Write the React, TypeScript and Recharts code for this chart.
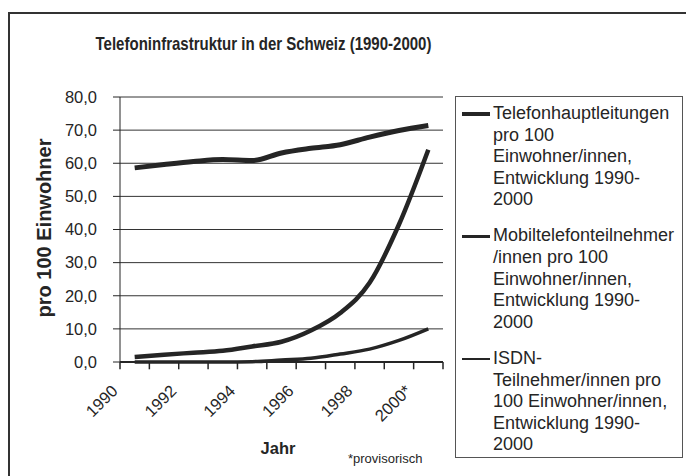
import { CartesianGrid, Legend, Line, LineChart, ReferenceLine, XAxis, YAxis } from "recharts";

const years = [1990, 1991, 1992, 1993, 1994, 1995, 1996, 1997, 1998, 1999, 2000];
const mainLines = [58.6, 59.6, 60.5, 61.1, 60.8, 63.1, 64.5, 65.6, 67.9, 69.9, 71.4];
const mobileSubs = [1.5, 2.2, 2.8, 3.4, 4.7, 6.1, 9.5, 14.8, 23.9, 41.5, 64.1];
const isdnSubs = [0, 0, 0, 0, 0.1, 0.6, 1.1, 2.4, 3.9, 6.5, 10.0];
const yTicks = [0, 10, 20, 30, 40, 50, 60, 70, 80];
const labelYears = [1990, 1992, 1994, 1996, 1998, 2000];
const legendLines = [
  ["Telefonhauptleitungen", "pro 100", "Einwohner/innen,", "Entwicklung 1990-", "2000"],
  ["Mobiltelefonteilnehmer", "/innen pro 100", "Einwohner/innen,", "Entwicklung 1990-", "2000"],
  ["ISDN-", "Teilnehmer/innen pro", "100 Einwohner/innen,", "Entwicklung 1990-", "2000"],
];

const FONT = '"Liberation Sans", Arial, sans-serif';
const INK = "#252525";

const series = [
  { key: "main", width: 5, legendWidth: 4 },
  { key: "mobile", width: 4.5, legendWidth: 3.5 },
  { key: "isdn", width: 3.5, legendWidth: 2 },
];

const rows = years.map((year, i) => ({
  year,
  main: mainLines[i],
  mobile: mobileSubs[i],
  isdn: isdnSubs[i],
}));

// tick marks sit between the years, like the old spreadsheet chart
const bounds = [...years.map(y => y - 0.5), years[years.length - 1] + 0.5];
const lastYear = years[years.length - 1];
const fmtY = (v: number) => v.toFixed(1).replace(".", ",");

function YearTick({ x, y, payload }: { x?: number; y?: number; payload?: { value: number } }) {
  if (x == null || y == null || !payload) return null;
  const v = payload.value;
  const ax = x - 16;
  const ay = y + 30;
  const label = v === lastYear ? `${v}*` : `${v}`;
  return (
    <text x={ax} y={ay} transform={`rotate(-45, ${ax}, ${ay})`} textAnchor="end"
      fontSize={16.5} fontFamily={FONT} fill={INK}>
      {label}
    </text>
  );
}

function LegendBox() {
  return (
    <div style={{ width: 226, height: 354, border: "1px solid #555", background: "#fff",
      fontFamily: FONT, fontSize: 18, lineHeight: "21.6px", color: INK, paddingTop: 6, boxSizing: "content-box" }}>
      {legendLines.map((lines, i) => (
        <div key={i} style={{ position: "relative", paddingLeft: 37, marginBottom: 14.5 }}>
          <span style={{ position: "absolute", left: 6, top: 10.8 - series[i].legendWidth / 2, width: 28,
            height: series[i].legendWidth, background: INK }} />
          {lines.map((t, j) => <div key={j} style={{ whiteSpace: "nowrap" }}>{t}</div>)}
        </div>
      ))}
    </div>
  );
}

export default function App() {
  return (
    <div style={{ position: "fixed", left: 0, top: 0, width: 686, height: 476, overflow: "hidden", background: "#fff" }}>
      <div style={{ position: "absolute", left: 8, top: 12, width: 700, height: 500, border: "2px solid #333" }} />
      <div style={{ position: "absolute", left: 0, top: 34, width: 527, textAlign: "center", fontFamily: FONT,
        fontWeight: "bold", fontSize: 19, lineHeight: "19px", color: INK, transform: "scaleX(0.79)" }}>
        Telefoninfrastruktur in der Schweiz (1990-2000)
      </div>
      <div style={{ position: "absolute", left: 44 - 120, top: 228 - 10, width: 240, textAlign: "center",
        fontFamily: FONT, fontWeight: "bold", fontSize: 20, lineHeight: "20px", color: INK, transform: "rotate(-90deg)" }}>
        pro 100 Einwohner
      </div>
      <div style={{ position: "absolute", left: 278 - 50, top: 448 - 8, width: 100, textAlign: "center",
        fontFamily: FONT, fontWeight: "bold", fontSize: 16.5, lineHeight: "16.5px", color: INK }}>
        Jahr
      </div>
      <div style={{ position: "absolute", left: 348, top: 458 - 6.5, fontFamily: FONT, fontSize: 13,
        lineHeight: "13px", color: INK }}>
        *provisorisch
      </div>
      <div style={{ position: "absolute", left: 0, top: 0 }}>
        <LineChart width={686} height={476} data={rows} margin={{ top: 97, right: 243, bottom: 44, left: 0 }}>
          <CartesianGrid vertical={false} stroke="#333" strokeWidth={1} />
          <XAxis dataKey="year" type="number" domain={[1989.5, 2000.5]} ticks={labelYears}
            interval={0} tick={<YearTick />} tickSize={0} tickMargin={0} height={70} tickLine={false}
            axisLine={{ stroke: INK, strokeWidth: 2 }} />
          <YAxis domain={[0, 80]} ticks={yTicks} interval={0} width={120} tickSize={7} tickMargin={16}
            tickFormatter={fmtY} axisLine={{ stroke: INK }} tickLine={{ stroke: INK }}
            tick={{ fill: INK, fontSize: 16.5, fontFamily: FONT }} />
          {bounds.map(b => (
            <ReferenceLine key={b} segment={[{ x: b, y: 0 }, { x: b, y: -2.2 }]} ifOverflow="visible"
              stroke={INK} strokeWidth={1.5} />
          ))}
          <Legend layout="vertical" align="center" verticalAlign="middle" content={() => <LegendBox />}
            wrapperStyle={{ left: 455, top: 96, width: 228, height: 356 }} />
          {series.map(s => (
            <Line key={s.key} dataKey={s.key} type="monotone" stroke={INK} strokeWidth={s.width}
              dot={false} activeDot={false} isAnimationActive={false} legendType="none" />
          ))}
        </LineChart>
      </div>
    </div>
  );
}
